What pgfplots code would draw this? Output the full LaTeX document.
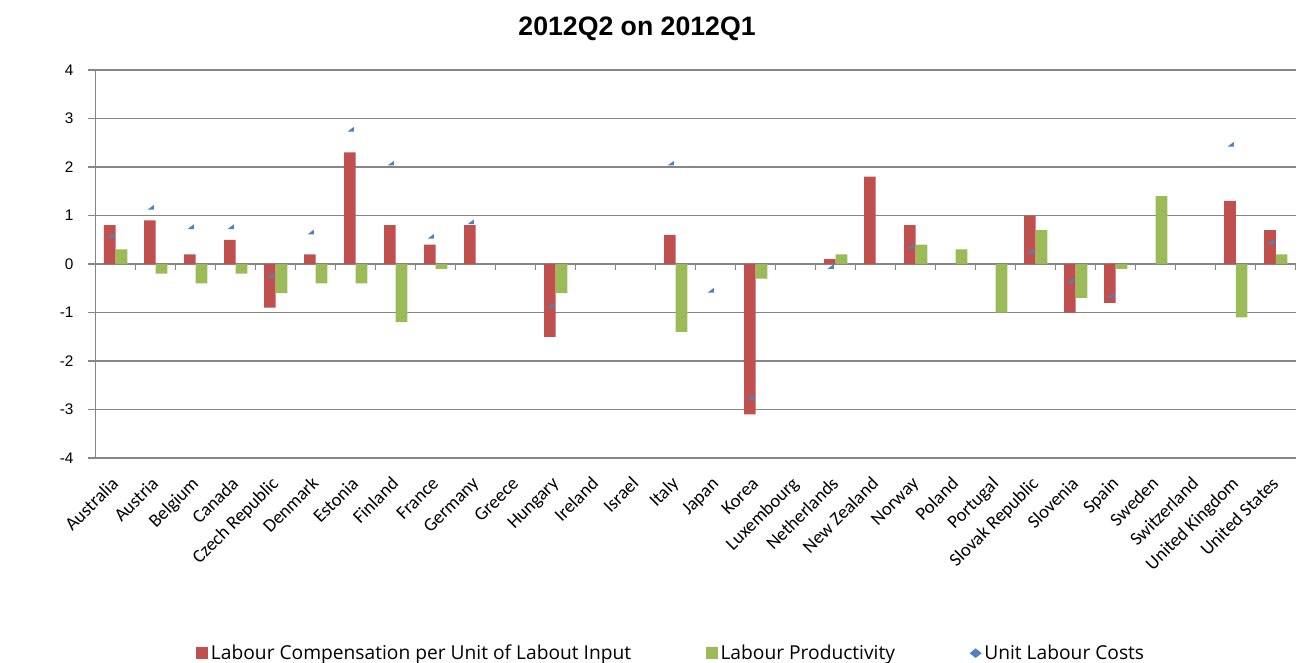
\documentclass[border=0pt]{standalone}
\usepackage{pgfplots}
\pgfplotsset{compat=1.18}
\usepackage{fontspec}
\setmainfont{Carlito}
\newfontfamily\arialfont{Liberation Sans}
\newfontfamily\legfont{Open Sans}
\definecolor{lcred}{RGB}{192,80,77}
\definecolor{lpgreen}{RGB}{155,187,89}
\definecolor{ulcblue}{RGB}{79,129,189}
\definecolor{gridgray}{RGB}{134,134,134}
\pgfdeclareplotmark{ulcmark}{%
  \pgfpathmoveto{\pgfqpoint{-6.1pt}{-1.75pt}}%
  \pgfpathlineto{\pgfqpoint{-1.4pt}{-1.75pt}}%
  \pgfpathlineto{\pgfqpoint{-1.4pt}{1.75pt}}%
  \pgfpathclose
  \pgfusepathqfill}
\begin{document}
\begin{tikzpicture}
\path[use as bounding box] (-71.8pt,-153pt) rectangle (901.7pt,343.5pt);
\begin{axis}[
  at={(0,0)}, anchor=south west,
  width=900pt, height=291pt, scale only axis,
  xmin=-0.5, xmax=29.5, ymin=-4, ymax=4,
  axis x line*=bottom, axis y line*=left,
  x axis line style={draw=none},
  y axis line style={gridgray, line width=0.8pt},
  ymajorgrids, grid style={gridgray, line width=0.8pt},
  xtick={0,...,29},
  xticklabels={Australia, Austria, Belgium, Canada, Czech Republic, Denmark, Estonia, Finland, France, Germany, Greece, Hungary, Ireland, Israel, Italy, Japan, Korea, Luxembourg, Netherlands, New Zealand, Norway, Poland, Portugal, Slovak Republic, Slovenia, Spain, Sweden, Switzerland, United Kingdom, United States},
  xtick style={draw=none},
  xticklabel style={xshift=1.5pt, yshift=-13pt, rotate=45, anchor=east, inner sep=0pt, text height=0.62em, text depth=0.2em, font=\fontsize{14}{16}\selectfont},
  ytick={-4,...,4}, yticklabels={-4,-3,-2,-1,0,1,2,3,4},
  tick align=outside, major tick length=5.5pt,
  ytick style={gridgray, line width=0.8pt},
  yticklabel style={font=\arialfont\fontsize{11.5}{13}\selectfont, anchor=east, inner sep=0pt, xshift=-11pt},
  title={2012Q2 on 2012Q1},
  title style={at={(0.4511,1.068)}, anchor=base, font=\arialfont\bfseries\fontsize{20}{24}\selectfont},
  legend columns=3,
  legend style={draw=none, fill=none, at={(0.0836,-0.503)}, anchor=west, inner sep=0pt, font=\legfont\fontsize{14.4}{17}\selectfont, /tikz/every even column/.append style={column sep=54pt}},
]
\pgfplotsinvokeforeach{-0.5,0.5,...,29.5}{\draw[gridgray, line width=0.8pt] (axis cs:#1,0) -- ++(0pt,-4.5pt);}
\addplot[ybar, bar width=8.8pt, bar shift=-4.4pt, fill=lcred, draw=none,
  legend image code/.code={\fill[lcred] (0pt,-4.5pt) rectangle (9pt,4.5pt);}]
  coordinates {(0,0.8) (1,0.9) (2,0.2) (3,0.5) (4,-0.9) (5,0.2) (6,2.3) (7,0.8) (8,0.4) (9,0.8)
  (11,-1.5) (14,0.6) (16,-3.1) (18,0.1) (19,1.8) (20,0.8) (23,1.0) (24,-1.0) (25,-0.8) (28,1.3) (29,0.7)};
\addlegendentry{Labour Compensation per Unit of Labout Input}
\addplot[ybar, bar width=8.8pt, bar shift=4.4pt, fill=lpgreen, draw=none,
  legend image code/.code={\fill[lpgreen] (0pt,-4.5pt) rectangle (9pt,4.5pt);}]
  coordinates {(0,0.3) (1,-0.2) (2,-0.4) (3,-0.2) (4,-0.6) (5,-0.4) (6,-0.4) (7,-1.2) (8,-0.1)
  (11,-0.6) (14,-1.4) (16,-0.3) (18,0.2) (20,0.4) (21,0.3) (22,-1.0) (23,0.7) (24,-0.7) (25,-0.1) (26,1.4) (28,-1.1) (29,0.2)};
\addlegendentry{Labour Productivity}
\addplot[only marks, mark=ulcmark, color=ulcblue,
  legend image code/.code={\fill[ulcblue, draw=none] (4.5pt,-3.6pt) -- (9pt,0pt) -- (4.5pt,3.6pt) -- (0pt,0pt) -- cycle;}]
  coordinates {(0,0.58) (1,1.17) (2,0.77) (3,0.77) (4,-0.24) (5,0.66) (6,2.78) (7,2.08) (8,0.57) (9,0.87)
  (11,-0.85) (14,2.08) (15,-0.54) (16,-2.75) (18,-0.05) (20,0.37) (23,0.27) (24,-0.34) (25,-0.64) (28,2.47) (29,0.46)};
\addlegendentry{Unit Labour Costs}
\end{axis}
\end{tikzpicture}
\end{document}
